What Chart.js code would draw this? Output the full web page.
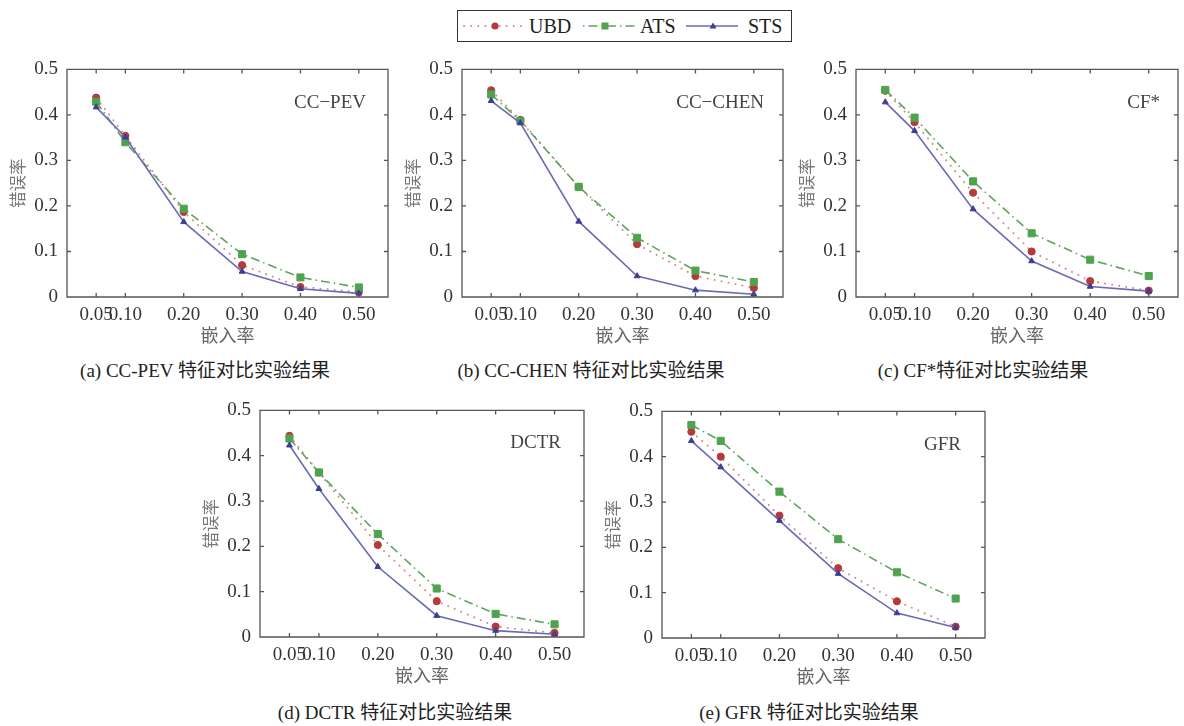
<!DOCTYPE html>
<html>
<head>
<meta charset="utf-8">
<script src="https://cdn.jsdelivr.net/npm/chart.js@4/dist/chart.umd.min.js"></script>
<style>
  html, body { margin: 0; padding: 0; background: #fff; width: 1184px; height: 726px; overflow: hidden; }
  .panel { position: absolute; }
  .caption { position: absolute; font-family: "Liberation Serif", "Noto Sans CJK SC", serif; font-size: 19px; color: #222; white-space: nowrap; transform: translate(-50%, -50%); }
  #legend { position: absolute; left: 457px; top: 10px; width: 333px; height: 30px; border: 1.5px solid #333; background: #fff;
            font-family: "Liberation Serif", serif; font-size: 20px; color: #222; }
  #legend .item { position: absolute; top: 0; height: 30px; line-height: 31px; }
  #legend svg { position: absolute; top: 0; }
</style>
</head>
<body>
<div id="legend"></div>
<script>
// ---------- data ----------
const embedRates   = [0.05, 0.10, 0.20, 0.30, 0.40, 0.50];
const xTickLabels  = ['0.05', '0.10', '0.20', '0.30', '0.40', '0.50'];
const yTickValues  = [0, 0.1, 0.2, 0.3, 0.4, 0.5];
const yTickLabels  = ['0', '0.1', '0.2', '0.3', '0.4', '0.5'];
const seriesNames  = ['UBD', 'ATS', 'STS'];
const panelLabels  = ['CC\u2212PEV', 'CC\u2212CHEN', 'CF*', 'DCTR', 'GFR'];
const captions     = ['(a) CC-PEV 特征对比实验结果', '(b) CC-CHEN 特征对比实验结果', '(c) CF*特征对比实验结果',
                      '(d) DCTR 特征对比实验结果', '(e) GFR 特征对比实验结果'];
const xAxisTitle   = '嵌入率';
const yAxisTitle   = '错误率';

// (a) CC-PEV
const ubdPEV  = [0.438, 0.354, 0.187, 0.070, 0.022, 0.011];
const atsPEV  = [0.429, 0.340, 0.194, 0.094, 0.043, 0.021];
const stsPEV  = [0.417, 0.351, 0.165, 0.056, 0.018, 0.008];
// (b) CC-CHEN
const ubdCHEN = [0.454, 0.389, 0.242, 0.116, 0.046, 0.020];
const atsCHEN = [0.445, 0.387, 0.242, 0.130, 0.058, 0.033];
const stsCHEN = [0.431, 0.382, 0.166, 0.046, 0.015, 0.006];
// (c) CF*
const ubdCF   = [0.453, 0.384, 0.229, 0.100, 0.035, 0.014];
const atsCF   = [0.455, 0.394, 0.254, 0.140, 0.082, 0.046];
const stsCF   = [0.428, 0.365, 0.193, 0.079, 0.023, 0.013];
// (d) DCTR
const ubdDCTR = [0.444, 0.363, 0.203, 0.079, 0.023, 0.009];
const atsDCTR = [0.438, 0.363, 0.227, 0.107, 0.051, 0.028];
const stsDCTR = [0.423, 0.327, 0.155, 0.047, 0.014, 0.006];
// (e) GFR
const ubdGFR  = [0.455, 0.400, 0.270, 0.154, 0.081, 0.025];
const atsGFR  = [0.470, 0.435, 0.323, 0.218, 0.145, 0.087];
const stsGFR  = [0.435, 0.377, 0.259, 0.142, 0.055, 0.023];

// ---------- layout / style ----------
const panels = [
  { l: 67,  t: 59,  r: 390,  b: 297, ubd: ubdPEV,  ats: atsPEV,  sts: stsPEV,  dx: 22, dy: 34, cx: 205, cy: 368 },
  { l: 462, t: 59,  r: 785,  b: 297, ubd: ubdCHEN, ats: atsCHEN, sts: stsCHEN, dx: 19, dy: 34, cx: 591, cy: 368 },
  { l: 856, t: 59,  r: 1180, b: 297, ubd: ubdCF,   ats: atsCF,   sts: stsCF,   dx: 18, dy: 34, cx: 983, cy: 368 },
  { l: 260, t: 400, r: 586,  b: 637, ubd: ubdDCTR, ats: atsDCTR, sts: stsDCTR, dx: 23, dy: 33, cx: 395, cy: 710 },
  { l: 662, t: 401, r: 987,  b: 638, ubd: ubdGFR,  ats: atsGFR,  sts: stsGFR,  dx: 24, dy: 34, cx: 809, cy: 710 }
];
const YW = 67, XH = 52, PT = 10, PR = 4;
const colUBDline = '#d88a8a', colUBDpt = '#b53a3c';
const colATSline = '#5ea45e', colATSpt = '#4fa34f';
const colSTSline = '#6a6ab6', colSTSpt = '#3d3d95';
const serif = '"Liberation Serif", "Times New Roman", serif';
const cjk = '"Noto Sans CJK SC", sans-serif';

const framePlugin = {
  id: 'frame',
  afterDraw(chart, args, opts) {
    const { ctx, chartArea: { left, right, top, bottom }, scales: { x, y } } = chart;
    ctx.save();
    ctx.strokeStyle = '#555';
    ctx.lineWidth = 1.3;
    ctx.beginPath();
    ctx.rect(left, top, right - left, bottom - top);
    const tl = 4;
    x.ticks.forEach(t => {
      const px = x.getPixelForValue(t.value);
      ctx.moveTo(px, bottom); ctx.lineTo(px, bottom - tl);
      ctx.moveTo(px, top); ctx.lineTo(px, top + tl);
    });
    y.ticks.forEach(t => {
      const py = y.getPixelForValue(t.value);
      ctx.moveTo(left, py); ctx.lineTo(left + tl, py);
      ctx.moveTo(right, py); ctx.lineTo(right - tl, py);
    });
    ctx.stroke();
    ctx.font = '19px ' + serif;
    ctx.fillStyle = '#444';
    ctx.textAlign = 'right';
    ctx.textBaseline = 'middle';
    ctx.fillText(opts.label, right - opts.dx, top + opts.dy);
    ctx.restore();
  }
};

function pts(arr) { return embedRates.map((v, i) => ({ x: v, y: arr[i] })); }

panels.forEach((p, k) => {
  const div = document.createElement('div');
  div.className = 'panel';
  div.style.left = (p.l - YW) + 'px';
  div.style.top = (p.t - PT) + 'px';
  div.style.width = (p.r - p.l + YW + PR) + 'px';
  div.style.height = (p.b - p.t + PT + XH) + 'px';
  const cv = document.createElement('canvas');
  div.appendChild(cv);
  document.body.appendChild(div);

  new Chart(cv, {
    type: 'line',
    data: {
      datasets: [
        { label: seriesNames[0], data: pts(p.ubd), order: 2,
          borderColor: colUBDline, borderWidth: 2, borderDash: [0.1, 7], borderCapStyle: 'round',
          pointStyle: 'circle', pointRadius: 3.6, pointBackgroundColor: colUBDpt, pointBorderColor: colUBDpt, pointBorderWidth: 1 },
        { label: seriesNames[1], data: pts(p.ats), order: 1,
          borderColor: colATSline, borderWidth: 1.6, borderDash: [9, 4, 1.5, 4],
          pointStyle: 'rect', pointRadius: 5, pointBackgroundColor: colATSpt, pointBorderColor: colATSpt, pointBorderWidth: 1 },
        { label: seriesNames[2], data: pts(p.sts), order: 0,
          borderColor: colSTSline, borderWidth: 1.6,
          pointStyle: 'triangle', pointRadius: 3.4, pointBackgroundColor: colSTSpt, pointBorderColor: colSTSpt, pointBorderWidth: 1 }
      ]
    },
    options: {
      responsive: true,
      maintainAspectRatio: false,
      animation: false,
      events: [],
      layout: { padding: { top: PT, right: PR, left: 0, bottom: 0 } },
      plugins: {
        legend: { display: false },
        tooltip: { enabled: false },
        frame: { label: panelLabels[k], dx: p.dx, dy: p.dy }
      },
      scales: {
        x: {
          type: 'linear', min: 0, max: 0.55,
          afterBuildTicks: s => { s.ticks = embedRates.map(v => ({ value: v })); },
          afterFit: s => { s.height = XH; },
          grid: { display: false, drawTicks: false },
          border: { display: false },
          ticks: {
            autoSkip: false, maxRotation: 0, padding: 7, color: '#333',
            font: { family: serif, size: 19 },
            callback: (v) => { const i = embedRates.findIndex(e => Math.abs(e - v) < 1e-9); return i >= 0 ? xTickLabels[i] : ''; }
          },
          title: { display: true, text: xAxisTitle, color: '#666', font: { family: cjk, size: 18, lineHeight: 1.2 }, padding: { top: 0, bottom: 3 } }
        },
        y: {
          type: 'linear', min: 0, max: 0.5,
          afterBuildTicks: s => { s.ticks = yTickValues.map(v => ({ value: v })); },
          afterFit: s => { s.width = YW; },
          grid: { display: false, drawTicks: false },
          border: { display: false },
          ticks: {
            autoSkip: false, padding: 9, color: '#333',
            font: { family: serif, size: 19 },
            callback: (v) => { const i = yTickValues.findIndex(e => Math.abs(e - v) < 1e-9); return i >= 0 ? yTickLabels[i] : ''; }
          },
          title: { display: true, text: yAxisTitle, color: '#777', font: { family: cjk, size: 16.5, lineHeight: 1.2 }, padding: { top: 8, bottom: 0 } }
        }
      }
    },
    plugins: [framePlugin]
  });

  const cap = document.createElement('div');
  cap.className = 'caption';
  cap.textContent = captions[k];
  cap.style.left = p.cx + 'px';
  cap.style.top = p.cy + 'px';
  document.body.appendChild(cap);
});

// ---------- legend ----------
const legend = document.getElementById('legend');
const legendItems = [
  { name: seriesNames[0], svgLeft: 4,   textLeft: 71,  svg:
    '<line x1="2" y1="15" x2="60" y2="15" stroke="' + colUBDline + '" stroke-width="2" stroke-dasharray="0.1 7" stroke-linecap="round"/>' +
    '<circle cx="33" cy="15" r="3.6" fill="' + colUBDpt + '"/>' },
  { name: seriesNames[1], svgLeft: 123, textLeft: 182, svg:
    '<line x1="2" y1="15" x2="54" y2="15" stroke="' + colATSline + '" stroke-width="1.6" stroke-dasharray="1.5 4 9 4"/>' +
    '<rect x="20.5" y="11.5" width="7" height="7" fill="' + colATSpt + '"/>' },
  { name: seriesNames[2], svgLeft: 228, textLeft: 290, svg:
    '<line x1="0" y1="15" x2="52" y2="15" stroke="' + colSTSline + '" stroke-width="1.6"/>' +
    '<polygon points="27,11.5 30.5,17.5 23.5,17.5" fill="' + colSTSpt + '"/>' }
];
legendItems.forEach(it => {
  const s = document.createElementNS('http://www.w3.org/2000/svg', 'svg');
  s.setAttribute('width', '62'); s.setAttribute('height', '30');
  s.style.left = it.svgLeft + 'px';
  s.innerHTML = it.svg;
  legend.appendChild(s);
  const t = document.createElement('div');
  t.className = 'item';
  t.style.left = it.textLeft + 'px';
  t.textContent = it.name;
  legend.appendChild(t);
});
</script>
</body>
</html>
